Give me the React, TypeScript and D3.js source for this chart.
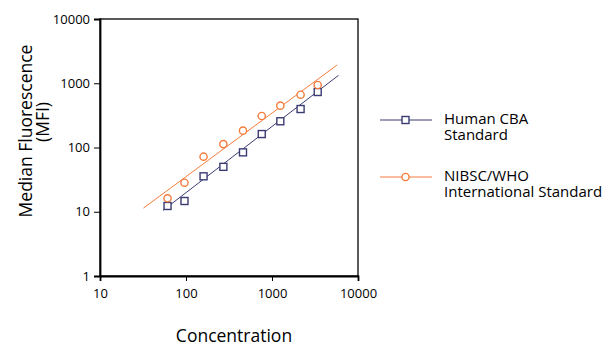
import React, { useRef, useEffect } from "react";
import * as d3 from "d3";

// concentrations shared by both standards
const concentrations = [61, 96, 160, 272, 460, 760, 1250, 2150, 3400];
const humanCba = [12.3, 14.7, 35.6, 50, 84, 162, 256, 397, 731];
const nibscWho = [16.2, 28.3, 72, 113, 183, 309, 448, 664, 939];

// fitted lines, [x, y] endpoints
const humanFit: [number, number][] = [
  [54, 10.5],
  [5940, 1330],
];
const nibscFit: [number, number][] = [
  [32, 11.4],
  [5715, 1923],
];

const xTicks = [10, 100, 1000, 10000];
const yTicks = [1, 10, 100, 1000, 10000];

const BLUE = "#3b3b73";
const ORANGE = "#f47c3c";
const FONT = "'Open Sans', 'Noto Sans', sans-serif";

const App: React.FC = () => {
  const svgRef = useRef<SVGSVGElement | null>(null);

  useEffect(() => {
    const width = 610;
    const height = 346;
    const svg = d3.select(svgRef.current);
    svg.selectAll("*").remove();
    svg.attr("width", width).attr("height", height);

    const margin = { top: 19, left: 100, right: 252, bottom: 70 };
    const x = d3.scaleLog().domain([10, 10000]).range([margin.left, width - margin.right]);
    const y = d3.scaleLog().domain([1, 10000]).range([height - margin.bottom, margin.top]);

    const [x0, x1] = x.range();
    const [y0, y1] = y.range();

    // frame
    svg
      .append("rect")
      .attr("x", x0)
      .attr("y", y1)
      .attr("width", x1 - x0)
      .attr("height", y0 - y1)
      .attr("fill", "none")
      .attr("stroke", "#000")
      .attr("stroke-width", 1.3);

    const xAxis = svg
      .append("g")
      .attr("transform", `translate(0,${y0})`)
      .call(
        d3
          .axisBottom(x)
          .tickValues(xTicks)
          .tickFormat(d3.format("d") as any)
          .tickSizeOuter(0)
          .tickSize(5)
          .tickPadding(8)
      );
    const yAxis = svg
      .append("g")
      .attr("transform", `translate(${x0},0)`)
      .call(
        d3
          .axisLeft(y)
          .tickValues(yTicks)
          .tickFormat(d3.format("d") as any)
          .tickSizeOuter(0)
          .tickSize(6)
          .tickPadding(4)
      );
    [xAxis, yAxis].forEach((a) => {
      a.selectAll("path").attr("stroke", "#000").attr("stroke-width", 1.8);
      a.selectAll("line").attr("stroke", "#000").attr("stroke-width", 1);
      a.selectAll("text")
        .attr("fill", "#000")
        .style("font-family", FONT)
        .style("font-size", "13px");
    });

    const line = d3
      .line<[number, number]>()
      .x((d) => x(d[0]))
      .y((d) => y(d[1]));

    svg
      .append("path")
      .attr("d", line(nibscFit))
      .attr("fill", "none")
      .attr("stroke", ORANGE)
      .attr("stroke-width", 1);
    svg
      .append("path")
      .attr("d", line(humanFit))
      .attr("fill", "none")
      .attr("stroke", BLUE)
      .attr("stroke-width", 1);

    // points
    svg
      .append("g")
      .selectAll("rect")
      .data(concentrations)
      .join("rect")
      .attr("x", (d) => x(d) - 3.5)
      .attr("y", (d, i) => y(humanCba[i]) - 3.5)
      .attr("width", 7)
      .attr("height", 7)
      .attr("fill", "#fff")
      .attr("stroke", BLUE)
      .attr("stroke-width", 1.4);

    svg
      .append("g")
      .selectAll("circle")
      .data(concentrations)
      .join("circle")
      .attr("cx", (d) => x(d))
      .attr("cy", (d, i) => y(nibscWho[i]))
      .attr("r", 3.6)
      .attr("fill", "#fff")
      .attr("stroke", ORANGE)
      .attr("stroke-width", 1.4);

    // legend
    const legend = [
      { color: BLUE, shape: "square", y: 120, lines: ["Human CBA", "Standard"] },
      { color: ORANGE, shape: "circle", y: 177, lines: ["NIBSC/WHO", "International Standard"] },
    ];
    legend.forEach((l) => {
      const g = svg.append("g");
      g.append("line")
        .attr("x1", 380)
        .attr("x2", 432)
        .attr("y1", l.y)
        .attr("y2", l.y)
        .attr("stroke", l.color)
        .attr("stroke-width", 1);
      if (l.shape === "square") {
        g.append("rect")
          .attr("x", 402)
          .attr("y", l.y - 3.5)
          .attr("width", 7)
          .attr("height", 7)
          .attr("fill", "#fff")
          .attr("stroke", l.color)
          .attr("stroke-width", 1.4);
      } else {
        g.append("circle")
          .attr("cx", 405.5)
          .attr("cy", l.y)
          .attr("r", 3.6)
          .attr("fill", "#fff")
          .attr("stroke", l.color)
          .attr("stroke-width", 1.4);
      }
      l.lines.forEach((s, i) => {
        g.append("text")
          .attr("x", 444)
          .attr("y", l.y + 3.5 + i * 16.5)
          .style("font-family", FONT)
          .style("font-size", "15px")
          .attr("fill", "#000")
          .text(s);
      });
    });

    // axis titles
    svg
      .append("text")
      .attr("x", 234)
      .attr("y", 342)
      .attr("text-anchor", "middle")
      .style("font-family", FONT)
      .style("font-size", "17.5px")
      .attr("fill", "#000")
      .text("Concentration");

    svg
      .append("text")
      .attr("transform", `translate(32,131) rotate(-90)`)
      .attr("text-anchor", "middle")
      .style("font-family", FONT)
      .style("font-size", "17.5px")
      .attr("fill", "#000")
      .text("Median Fluorescence");
    svg
      .append("text")
      .attr("transform", `translate(49,122) rotate(-90)`)
      .attr("text-anchor", "middle")
      .style("font-family", FONT)
      .style("font-size", "17.5px")
      .attr("fill", "#000")
      .text("(MFI)");
  }, []);

  return (
    <div style={{ position: "absolute", left: 0, top: 0, background: "#fff" }}>
      <svg ref={svgRef}></svg>
    </div>
  );
};

export default App;
